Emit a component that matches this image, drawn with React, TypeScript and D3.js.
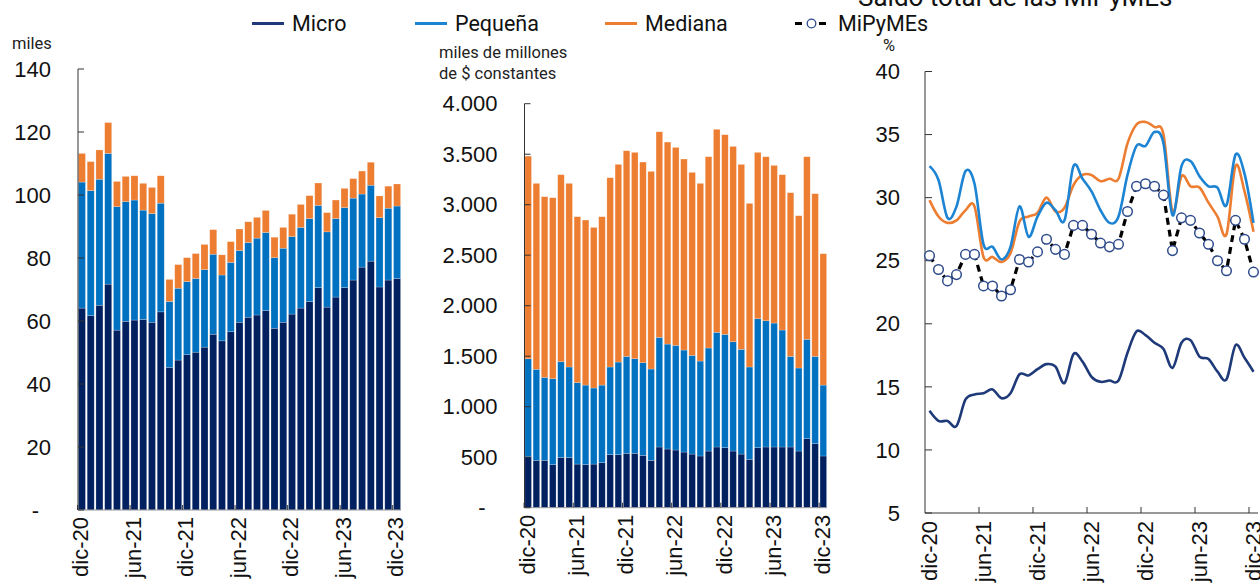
import React, { useRef, useEffect } from 'react';
import * as d3 from 'd3';

const months = [
  'dic-20', 'ene-21', 'feb-21', 'mar-21', 'abr-21', 'may-21', 'jun-21', 'jul-21', 'ago-21', 'sep-21', 'oct-21', 'nov-21',
  'dic-21', 'ene-22', 'feb-22', 'mar-22', 'abr-22', 'may-22', 'jun-22', 'jul-22', 'ago-22', 'sep-22', 'oct-22', 'nov-22',
  'dic-22', 'ene-23', 'feb-23', 'mar-23', 'abr-23', 'may-23', 'jun-23', 'jul-23', 'ago-23', 'sep-23', 'oct-23', 'nov-23',
  'dic-23',
];
const tickMonths = ['dic-20', 'jun-21', 'dic-21', 'jun-22', 'dic-22', 'jun-23', 'dic-23'];

// cantidad (miles)
const countMicro = [64.1, 61.7, 65.0, 71.7, 57.1, 59.9, 60.3, 60.5, 59.6, 62.9, 45.3, 47.6, 49.3, 50.1, 51.7, 55.8, 53.7, 56.6, 59.6, 61.2, 61.9, 63.3, 57.7, 59.6, 62.2, 64.1, 66.2, 70.6, 64.4, 67.6, 70.6, 73.0, 77.1, 79.0, 70.8, 73.0, 73.5];
const countPequena = [40.0, 39.7, 40.0, 41.5, 39.2, 38.0, 38.1, 34.7, 34.5, 34.5, 20.9, 22.8, 23.2, 23.4, 24.6, 25.4, 20.9, 22.0, 22.8, 23.7, 24.4, 24.8, 22.4, 23.5, 24.6, 25.6, 26.3, 26.1, 23.9, 24.9, 25.4, 26.0, 23.2, 24.1, 22.0, 22.8, 23.0];
const countMediana = [9.1, 9.2, 9.3, 9.8, 8.0, 8.0, 7.7, 8.5, 8.3, 8.7, 7.0, 7.5, 7.6, 7.9, 8.0, 7.8, 6.4, 6.6, 6.8, 6.6, 6.6, 7.0, 6.5, 6.6, 7.1, 7.3, 7.3, 7.1, 6.1, 5.9, 6.1, 6.2, 7.3, 7.3, 6.9, 7.0, 7.0];

// saldo (miles de millones de $ constantes)
const amountMicro = [505, 469, 469, 426, 498, 498, 432, 426, 432, 446, 525, 525, 538, 538, 518, 469, 601, 581, 571, 551, 531, 512, 561, 601, 594, 561, 531, 479, 594, 601, 601, 601, 601, 561, 683, 634, 512];
const amountPequena = [970, 901, 821, 851, 947, 895, 806, 788, 753, 768, 868, 917, 960, 937, 918, 904, 1085, 1039, 1036, 1010, 977, 940, 1020, 1135, 1122, 1082, 1037, 914, 1277, 1250, 1227, 1158, 897, 822, 984, 864, 702];
const amountMediana = [2006, 1841, 1789, 1792, 1852, 1818, 1643, 1634, 1590, 1667, 1874, 1957, 2036, 2043, 1986, 1957, 2036, 2000, 1960, 1891, 1812, 1759, 1894, 2010, 1977, 1934, 1831, 1620, 1647, 1624, 1561, 1538, 1621, 1508, 1808, 1611, 1301];

// % sobre saldo total de las MiPyMEs
const pctMicro = [13.1, 12.3, 12.3, 11.9, 14.0, 14.4, 14.5, 14.8, 14.1, 14.5, 16.0, 15.9, 16.4, 16.8, 16.6, 15.3, 17.6, 17.0, 15.8, 15.4, 15.5, 15.5, 17.7, 19.4, 19.1, 18.5, 18.0, 16.5, 18.5, 18.7, 17.4, 17.2, 16.2, 15.6, 18.3, 17.3, 16.2];
const pctPequena = [32.5, 31.4, 28.4, 29.3, 32.1, 31.1, 26.3, 26.1, 25.1, 26.1, 29.3, 26.9, 28.5, 29.6, 29.0, 28.2, 32.5, 31.5, 30.5, 29.0, 28.0, 28.5, 31.8, 34.1, 34.1, 35.2, 34.3, 28.6, 32.5, 32.9, 31.7, 30.9, 30.8, 29.4, 33.4, 31.9, 28.0];
const pctMediana = [29.8, 28.5, 28.0, 28.2, 29.0, 29.3, 25.3, 25.3, 24.9, 25.6, 28.1, 28.5, 28.8, 30.0, 28.9, 29.2, 31.0, 31.8, 31.8, 31.3, 31.5, 31.5, 34.3, 35.8, 36.0, 35.6, 35.0, 28.9, 31.7, 30.9, 30.8, 29.6, 28.5, 27.1, 32.5, 30.5, 27.3];
const pctMipymes = [25.4, 24.3, 23.4, 23.9, 25.5, 25.5, 23.0, 23.0, 22.2, 22.7, 25.1, 24.9, 25.7, 26.7, 25.9, 25.5, 27.8, 27.8, 27.1, 26.4, 26.1, 26.3, 28.9, 30.9, 31.1, 30.9, 30.2, 25.8, 28.4, 28.2, 27.2, 26.3, 25.0, 24.2, 28.2, 26.7, 24.1];

const countTicks = [0, 20, 40, 60, 80, 100, 120, 140];
const amountTicks = [0, 500, 1000, 1500, 2000, 2500, 3000, 3500, 4000];
const pctTicks = [5, 10, 15, 20, 25, 30, 35, 40];

const KEYS = ['Micro', 'Pequeña', 'Mediana'];
const COLORS: Record<string, string> = {
  Micro: '#002060',
  'Pequeña': '#0070C0',
  Mediana: '#ED7D31',
};
const LINE_COLORS: Record<string, string> = {
  Micro: '#1F3A78',
  'Pequeña': '#1C84D2',
  Mediana: '#ED7D31',
};

const TICK_FONT = '"Liberation Sans", Arial, sans-serif';
const TEXT_FONT = 'Roboto, "Noto Sans", sans-serif';

const fmtThousands = (v: number) => (v === 0 ? '-' : d3.format(',')(v).replace(/,/g, '.'));

export default function App() {
  const ref = useRef<SVGSVGElement | null>(null);

  useEffect(() => {
    const svg = d3.select(ref.current);
    svg.selectAll('*').remove();

    const stackedBars = (
      xRange: [number, number],
      yRange: [number, number],
      yMax: number,
      ticks: number[],
      fmt: (v: number) => string,
      micro: number[],
      pequena: number[],
      mediana: number[],
    ) => {
      const rows = months.map((m, i) => ({ month: m, Micro: micro[i], 'Pequeña': pequena[i], Mediana: mediana[i] }));
      const series = d3.stack<any>().keys(KEYS)(rows);
      const x = d3.scaleBand().domain(months).range(xRange).paddingInner(0.2).paddingOuter(0.05);
      const y = d3.scaleLinear().domain([0, yMax]).range(yRange);
      const g = svg.append('g');

      g.selectAll('g.layer')
        .data(series)
        .join('g')
        .attr('fill', d => COLORS[d.key])
        .selectAll('rect')
        .data(d => d)
        .join('rect')
        .attr('x', d => x(d.data.month)!)
        .attr('y', d => y(d[1]))
        .attr('width', x.bandwidth())
        .attr('height', d => y(d[0]) - y(d[1]))
        .attr('stroke', '#ffffff')
        .attr('stroke-opacity', 0.35)
        .attr('stroke-width', 0.6);

      // axes
      g.append('line')
        .attr('x1', xRange[0]).attr('x2', xRange[1])
        .attr('y1', yRange[0]).attr('y2', yRange[0])
        .attr('stroke', '#9a9a9a').attr('stroke-width', 1);
      g.append('line')
        .attr('x1', xRange[0]).attr('x2', xRange[0])
        .attr('y1', yRange[0]).attr('y2', yRange[1])
        .attr('stroke', '#333').attr('stroke-width', 1);

      ticks.forEach(t => {
        g.append('line')
          .attr('x1', xRange[0]).attr('x2', xRange[0] + 6)
          .attr('y1', y(t)).attr('y2', y(t))
          .attr('stroke', '#333');
        g.append('text')
          .attr('x', xRange[0] - 27 - (t === 0 ? 12 : 0))
          .attr('y', y(t))
          .attr('dy', '0.35em')
          .attr('text-anchor', 'end')
          .attr('font-family', TICK_FONT)
          .attr('font-size', 22)
          .attr('fill', '#111')
          .text(fmt(t));
      });

      tickMonths.forEach(m => {
        const px = x(m)! - (x.step() * x.paddingInner()) / 2;
        g.append('line')
          .attr('x1', px).attr('x2', px)
          .attr('y1', yRange[0]).attr('y2', yRange[0] - 5)
          .attr('stroke', '#333');
        g.append('text')
          .attr('transform', `translate(${px + 3},${yRange[0] + 7}) rotate(-90)`)
          .attr('dy', '0.35em')
          .attr('text-anchor', 'end')
          .attr('font-family', TICK_FONT)
          .attr('font-size', 22)
          .attr('fill', '#111')
          .text(m);
      });
    };

    stackedBars([78, 401], [510, 69], 140, countTicks, v => (v === 0 ? '-' : String(v)), countMicro, countPequena, countMediana);
    stackedBars([524.5, 827], [507.7, 103.7], 4000, amountTicks, fmtThousands, amountMicro, amountPequena, amountMediana);

    // line panel
    const xl = d3.scaleBand().domain(months).range([925, 1258]);
    const yl = d3.scaleLinear().domain([5, 40]).range([513, 71.5]);
    const gl = svg.append('g');
    const cx = (m: string) => xl(m)! + xl.bandwidth() / 2;

    gl.append('line').attr('x1', 925).attr('x2', 1258).attr('y1', 513).attr('y2', 513).attr('stroke', '#333');
    gl.append('line').attr('x1', 925).attr('x2', 925).attr('y1', 513).attr('y2', 71.5).attr('stroke', '#333');
    pctTicks.forEach(t => {
      gl.append('line').attr('x1', 925).attr('x2', 932).attr('y1', yl(t)).attr('y2', yl(t)).attr('stroke', '#333');
      gl.append('text')
        .attr('x', 900).attr('y', yl(t)).attr('dy', '0.35em')
        .attr('text-anchor', 'end')
        .attr('font-family', TICK_FONT).attr('font-size', 22).attr('fill', '#111')
        .text(String(t));
    });
    tickMonths.forEach(m => {
      const px = xl(m)!;
      if (m !== 'dic-20') {
        gl.append('line').attr('x1', px).attr('x2', px).attr('y1', 513).attr('y2', 507).attr('stroke', '#333');
      }
      gl.append('text')
        .attr('transform', `translate(${px + 4},${521}) rotate(-90)`)
        .attr('dy', '0.35em')
        .attr('text-anchor', 'end')
        .attr('font-family', TICK_FONT).attr('font-size', 22).attr('fill', '#111')
        .text(m);
    });

    const smooth = d3.line<number>()
      .x((_, i) => cx(months[i]))
      .y(d => yl(d))
      .curve(d3.curveCardinal.tension(0));

    [
      { key: 'Mediana', values: pctMediana },
      { key: 'Pequeña', values: pctPequena },
      { key: 'Micro', values: pctMicro },
    ].forEach(s => {
      gl.append('path')
        .attr('d', smooth(s.values))
        .attr('fill', 'none')
        .attr('stroke', LINE_COLORS[s.key])
        .attr('stroke-width', 2.6);
    });

    const straight = d3.line<number>().x((_, i) => cx(months[i])).y(d => yl(d));
    gl.append('path')
      .attr('d', straight(pctMipymes))
      .attr('fill', 'none')
      .attr('stroke', '#000')
      .attr('stroke-width', 3.2)
      .attr('stroke-dasharray', '7,5');
    gl.selectAll('circle.mp')
      .data(pctMipymes)
      .join('circle')
      .attr('cx', (_, i) => cx(months[i]))
      .attr('cy', d => yl(d))
      .attr('r', 4.8)
      .attr('fill', '#fff')
      .attr('stroke', '#2F4B8C')
      .attr('stroke-width', 1.5);

    // unit labels
    const unit = (x: number, y: number, t: string) =>
      svg.append('text')
        .attr('x', x).attr('y', y)
        .attr('font-family', TEXT_FONT).attr('font-size', 16.5).attr('fill', '#222')
        .text(t);
    unit(12, 49, 'miles');
    unit(439, 58, 'miles de millones');
    unit(439, 79, 'de $ constantes');
    unit(883, 51, '%');

    // title (partly cut at top)
    svg.append('text')
      .attr('x', 858).attr('y', 6)
      .attr('font-family', TEXT_FONT).attr('font-size', 26).attr('fill', '#111')
      .text('Saldo total de las MiPyMEs');

    // legend
    const legendItems = [
      { key: 'Micro', x: 252 },
      { key: 'Pequeña', x: 415 },
      { key: 'Mediana', x: 605 },
    ];
    legendItems.forEach(it => {
      svg.append('line')
        .attr('x1', it.x).attr('x2', it.x + 32).attr('y1', 23.5).attr('y2', 23.5)
        .attr('stroke', LINE_COLORS[it.key]).attr('stroke-width', 3);
      svg.append('text')
        .attr('x', it.x + 40).attr('y', 31)
        .attr('font-family', TEXT_FONT).attr('font-size', 21.5).attr('fill', '#111')
        .text(it.key);
    });
    svg.append('line')
      .attr('x1', 795).attr('x2', 828).attr('y1', 23.5).attr('y2', 23.5)
      .attr('stroke', '#000').attr('stroke-width', 3).attr('stroke-dasharray', '7,5');
    svg.append('circle')
      .attr('cx', 811.5).attr('cy', 23.5).attr('r', 4.3)
      .attr('fill', '#fff').attr('stroke', '#2F4B8C').attr('stroke-width', 1.3);
    svg.append('text')
      .attr('x', 838).attr('y', 31)
      .attr('font-family', TEXT_FONT).attr('font-size', 21.5).attr('fill', '#111')
      .text('MiPyMEs');
  }, []);

  return (
    <svg
      ref={ref}
      width={1260}
      height={584}
      style={{ position: 'absolute', left: 0, top: 0, background: '#fff' }}
    />
  );
}
